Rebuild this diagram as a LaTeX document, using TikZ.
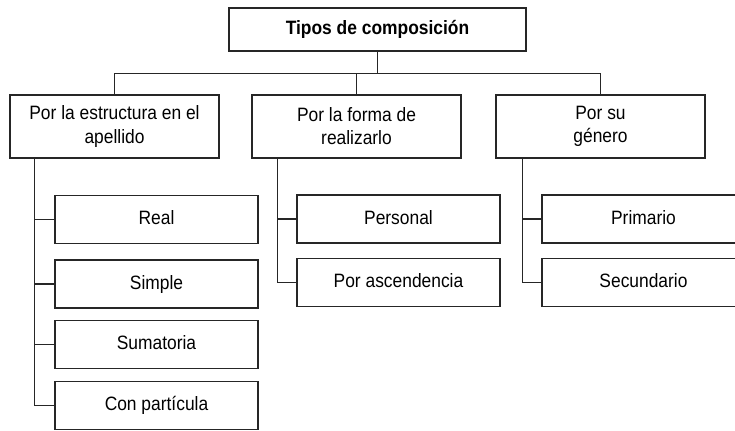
\documentclass[tikz,border=0pt]{standalone}
\usepackage{fontspec}
\setmainfont{Liberation Sans}[FakeStretch=0.9]
\begin{document}
\begin{tikzpicture}[x=0.75pt,y=-0.75pt,
  caja/.style={draw=black!85, line width=0.9pt, align=center, inner sep=0pt, font=\fontsize{14.5}{17.3}\selectfont},
  cajatop/.style={caja, minimum width=222.75pt, minimum height=32.25pt, font=\fontsize{14.5}{17.3}\selectfont\bfseries},
  cajauno/.style={caja, minimum width=156.75pt, minimum height=47.25pt},
  cajados/.style={caja, minimum width=152.25pt, minimum height=36pt, text height=10.5pt, text depth=3pt},
  linea/.style={draw=black!85, line width=0.9pt}]
\useasboundingbox (0,0) rectangle (735,430);
\node[cajatop] (tipos) at (377.5,29.5) {Tipos de composición};
\node[cajauno] (estructura) at (114.5,126.5) {Por la estructura en el\\apellido};
\node[cajauno] (forma) at (356.5,126.5) {Por la forma de\\realizarlo};
\node[cajauno] (genero) at (600.5,126.5) {Por su\\género};
\node[cajados] (real) at (156.5,219.5) {Real};
\node[cajados] (simple) at (156.5,284) {Simple};
\node[cajados] (sumatoria) at (156.5,344.5) {Sumatoria};
\node[cajados] (particula) at (156.5,405.5) {Con partícula};
\node[cajados] (personal) at (398.5,219) {Personal};
\node[cajados] (ascendencia) at (398.5,282.5) {Por ascendencia};
\node[cajados] (primario) at (643.5,219) {Primario};
\node[cajados] (secundario) at (643.5,282.5) {Secundario};
\draw[linea] (tipos.south) -- ++(0,22) coordinate (bus);
\draw[linea] (bus) -| (estructura.north);
\draw[linea] (bus) -| (forma.north);
\draw[linea] (bus) -| (genero.north);
\draw[linea] (estructura.south west) ++(25,0) |- (real.west);
\draw[linea] (estructura.south west) ++(25,0) |- (simple.west);
\draw[linea] (estructura.south west) ++(25,0) |- (sumatoria.west);
\draw[linea] (estructura.south west) ++(25,0) |- (particula.west);
\draw[linea] (forma.south west) ++(26,0) |- (personal.west);
\draw[linea] (forma.south west) ++(26,0) |- (ascendencia.west);
\draw[linea] (genero.south west) ++(27,0) |- (primario.west);
\draw[linea] (genero.south west) ++(27,0) |- (secundario.west);
\end{tikzpicture}
\end{document}
